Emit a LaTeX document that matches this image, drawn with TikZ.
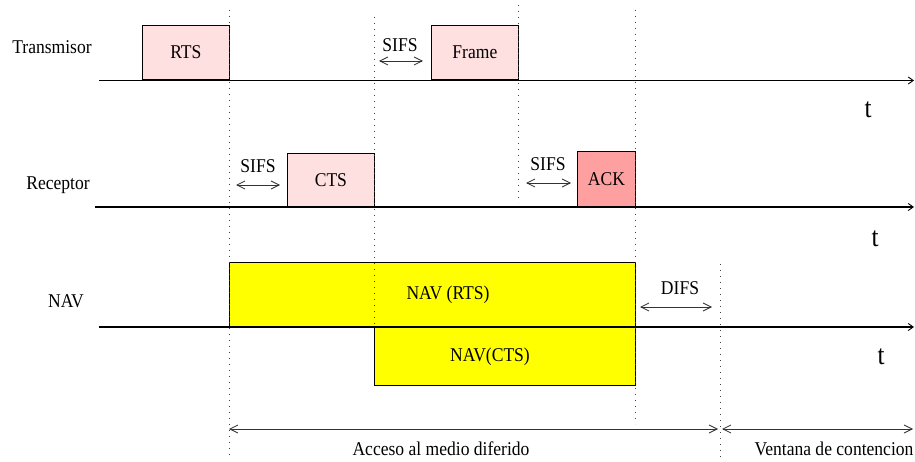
\documentclass[tikz,border=0pt]{standalone}
\usepackage{fontspec}
\setmainfont{Liberation Serif}[FakeStretch=0.9]
\usetikzlibrary{arrows.meta}
\definecolor{pktpink}{RGB}{255,224,224}
\definecolor{ackred}{RGB}{255,160,160}
\definecolor{navyellow}{RGB}{255,255,0}

\begin{document}
\begin{tikzpicture}[x=1pt,y=-1pt,
  lbl/.style={font=\fontsize{19.5}{22}\selectfont, inner sep=0pt},
  tlbl/.style={font=\fontsize{28}{30}\selectfont, inner sep=0pt},
  axis/.style={line width=1.5pt, -{Straight Barb[length=5pt,width=7pt,line width=0.9pt]}},
  pkt/.style={draw, line width=0.8pt, fill=pktpink, inner sep=0pt, anchor=south west,
              font=\fontsize{19.5}{22}\selectfont},
  navbox/.style={draw, line width=0.8pt, fill=navyellow, inner sep=0pt, anchor=north west},
  guide/.style={draw=black!75, line width=1pt, dash pattern=on 1pt off 5pt},
  span/.style={draw=black!80, line width=0.8pt,
               {Straight Barb[length=8pt,width=8pt]}-{Straight Barb[length=8pt,width=8pt]}},
]
\useasboundingbox (0,0) rectangle (915,462);

% station names
\node[lbl] (tx)  at (52,47)  {Transmisor};
\node[lbl] (rx)  at (58,185) {Receptor};
\node[lbl] (nav) at (66,301) {NAV};

% frames on the medium
\node[pkt, minimum width=87pt, minimum height=54pt] (rts) at (142,80) {RTS};
\node[pkt, minimum width=87pt, minimum height=54pt] (frame) at (431,80) {Frame};
\node[pkt, minimum width=87pt, minimum height=53pt] (cts) at (287,207) {CTS};
\node[pkt, minimum width=58pt, minimum height=55pt, fill=ackred] (ack) at (577,207) {ACK};

% network allocation vectors
\node[navbox, minimum width=406pt, minimum height=65pt] (navrts) at (229,262) {};
\node[navbox, minimum width=261pt, minimum height=58pt] (navcts) at (374,327) {};
\node[lbl] (navrtslbl) at (448,295) {NAV (RTS)};
\node[lbl] (navctslbl) at (490,357) {NAV(CTS)};

% time axes
\coordinate (ax1s) at (99,80.5);  \coordinate (ax1e) at (914,80.5);
\coordinate (ax2s) at (95,207);   \coordinate (ax2e) at (914,207);
\coordinate (ax3s) at (99,327);   \coordinate (ax3e) at (914,327);
\draw[axis] (ax1s) -- (ax1e);
\draw[axis] (ax2s) -- (ax2e);
\draw[axis] (ax3s) -- (ax3e);
\node[tlbl] (t1) at (868,110) {t};
\node[tlbl] (t2) at (875,239) {t};
\node[tlbl] (t3) at (881,357) {t};

% dotted time markers
\coordinate (g1a) at (229,10);  \coordinate (g1b) at (229,458);
\coordinate (g2a) at (374,17);  \coordinate (g2b) at (374,327);
\coordinate (g3a) at (518,5);   \coordinate (g3b) at (518,203);
\coordinate (g4a) at (635,10);  \coordinate (g4b) at (635,424);
\coordinate (g5a) at (720,264); \coordinate (g5b) at (720,462);
\draw[guide] (g1a) -- (g1b);
\draw[guide] (g2a) -- (g2b);
\draw[guide] (g3a) -- (g3b);
\draw[guide] (g4a) -- (g4b);
\draw[guide] (g5a) -- (g5b);

% inter-frame spaces
\node[lbl] (sifs1) at (400,45) {SIFS};
\coordinate (s1a) at (379,61); \coordinate (s1b) at (423,61);
\draw[span] (s1a) -- (s1b);
\node[lbl] (sifs2) at (258,166) {SIFS};
\coordinate (s2a) at (236,185); \coordinate (s2b) at (280,185);
\draw[span] (s2a) -- (s2b);
\node[lbl] (sifs3) at (548,164) {SIFS};
\coordinate (s3a) at (526,183); \coordinate (s3b) at (571,183);
\draw[span] (s3a) -- (s3b);
\node[lbl] (difs) at (680,288) {DIFS};
\coordinate (d1a) at (640,307); \coordinate (d1b) at (712,307);
\draw[span] (d1a) -- (d1b);

% access periods
\coordinate (p1a) at (229,429); \coordinate (p1b) at (718,429);
\coordinate (p2a) at (722,429); \coordinate (p2b) at (913,429);
\draw[span] (p1a) -- (p1b);
\draw[span] (p2a) -- (p2b);
\node[lbl] (acceso) at (441,449) {Acceso al medio diferido};
\node[lbl] (ventana) at (834,449) {Ventana de contencion};
\end{tikzpicture}
\end{document}
